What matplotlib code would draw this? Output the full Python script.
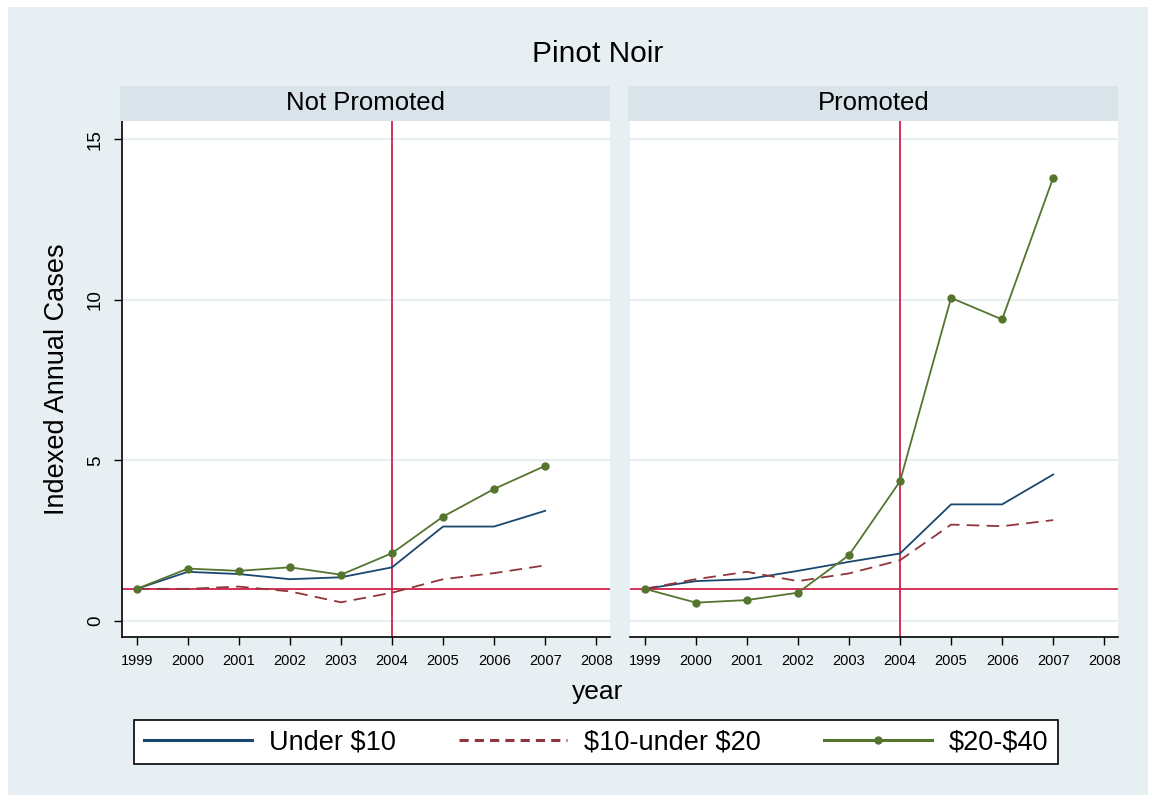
import matplotlib.pyplot as plt
from matplotlib.patches import Rectangle
from matplotlib.lines import Line2D

plt.rcParams["font.family"] = ["Liberation Sans", "DejaVu Sans"]
plt.rcParams["text.parse_math"] = False  # keep the $ signs literal

years = [1999, 2000, 2001, 2002, 2003, 2004, 2005, 2006, 2007]
panels = ["Not Promoted", "Promoted"]
series_names = ["Under $10", "$10-under $20", "$20-$40"]

# Not Promoted
np_under10 = [1.0, 1.53, 1.46, 1.30, 1.36, 1.67, 2.94, 2.94, 3.43]
np_10to20 = [1.0, 1.0, 1.07, 0.92, 0.58, 0.88, 1.30, 1.49, 1.73]
np_20to40 = [1.0, 1.63, 1.56, 1.67, 1.44, 2.11, 3.25, 4.11, 4.83]

# Promoted
p_under10 = [1.0, 1.24, 1.30, 1.56, 1.84, 2.10, 3.63, 3.63, 4.56]
p_10to20 = [1.0, 1.30, 1.53, 1.24, 1.48, 1.89, 3.00, 2.95, 3.14]
p_20to40 = [1.0, 0.57, 0.65, 0.88, 2.05, 4.35, 10.06, 9.39, 13.8]

data = {
    "Not Promoted": [np_under10, np_10to20, np_20to40],
    "Promoted": [p_under10, p_10to20, p_20to40],
}
xticks = list(range(1999, 2009))
yticks = [0, 5, 10, 15]

blue = "#1a476f"
red = "#90353b"
green = "#55752f"
refc = "#d0204a"
bg = "#e8eff2"
strip_c = "#d8e4ea"

W, H = 1155, 797
fig = plt.figure(figsize=(W / 100, H / 100), dpi=100, facecolor="white")
fig.patches.append(Rectangle((8 / W, 2 / H), 1140 / W, 788 / H, transform=fig.transFigure,
                             facecolor=bg, edgecolor="none", zorder=-10))


def fx(px):
    return px / W


def fy(py):
    return 1 - py / H


lefts = [122, 630]
width_px = 488
top_px, bot_px = 121, 637

for i, name in enumerate(panels):
    l = lefts[i]
    ax = fig.add_axes([fx(l), fy(bot_px), width_px / W, (bot_px - top_px) / H])
    ax.set_facecolor("white")
    ax.set_xlim(1998.71, 2008.27)
    ax.set_ylim(-0.5, 15.57)
    for y in yticks:
        ax.axhline(y, color="#e3ecef", lw=1.2, zorder=0)
    s = data[name]
    ax.plot(years, s[0], color=blue, lw=1.3, zorder=3)
    ax.plot(years, s[1], color=red, lw=1.3, dashes=(7, 4), zorder=3)
    ax.plot(years, s[2], color=green, lw=1.3, marker="o", markersize=5, zorder=4)
    ax.axhline(1, color=refc, lw=1.3, zorder=2)
    ax.axvline(2004, color=refc, lw=1.3, zorder=2)
    ax.set_xticks(xticks)
    ax.set_xticklabels([str(x) for x in xticks], fontsize=10.5)
    ax.tick_params(axis="x", length=6, width=1, pad=6)
    for sp in ["top", "right"]:
        ax.spines[sp].set_visible(False)
    ax.spines["bottom"].set_linewidth(1.2)
    if i == 0:
        ax.set_yticks(yticks)
        ax.set_yticklabels([str(y) for y in yticks], fontsize=13.5, rotation=90, va="center")
        ax.tick_params(axis="y", length=6, width=1, pad=7)
        ax.spines["left"].set_linewidth(1.2)
        ax.set_ylabel("Indexed Annual Cases", fontsize=19.5, labelpad=12)
    else:
        ax.spines["left"].set_visible(False)
        ax.set_yticks([])
    # strip
    fig.patches.append(Rectangle((fx(l - 2), fy(121)), (width_px + 2) / W, 35 / H,
                                 transform=fig.transFigure, facecolor=strip_c,
                                 edgecolor="none"))
    fig.text(fx(l + width_px / 2), fy(103), name, ha="center", va="center", fontsize=18.5)

fig.text(fx(598), fy(54), "Pinot Noir", ha="center", va="center", fontsize=21.5)
fig.text(fx(598), fy(692), "year", ha="center", va="center", fontsize=19)

handles = [
    Line2D([], [], color=blue, lw=2.2),
    Line2D([], [], color=red, lw=2.2, dashes=(3, 2)),
    Line2D([], [], color=green, lw=2.2, marker="o", markersize=5),
]
leg = fig.legend(handles, series_names, loc="center", bbox_to_anchor=(fx(596), fy(742)),
                 ncol=3, fontsize=19.5, frameon=True, fancybox=False, edgecolor="black",
                 handlelength=4.0, handletextpad=0.6, columnspacing=2.35,
                 borderpad=0.35, borderaxespad=0)
leg.get_frame().set_linewidth(1.2)
leg.get_frame().set_facecolor("white")
leg.get_frame().set_alpha(1.0)

fig.savefig("out.png", dpi=100, facecolor="white")
